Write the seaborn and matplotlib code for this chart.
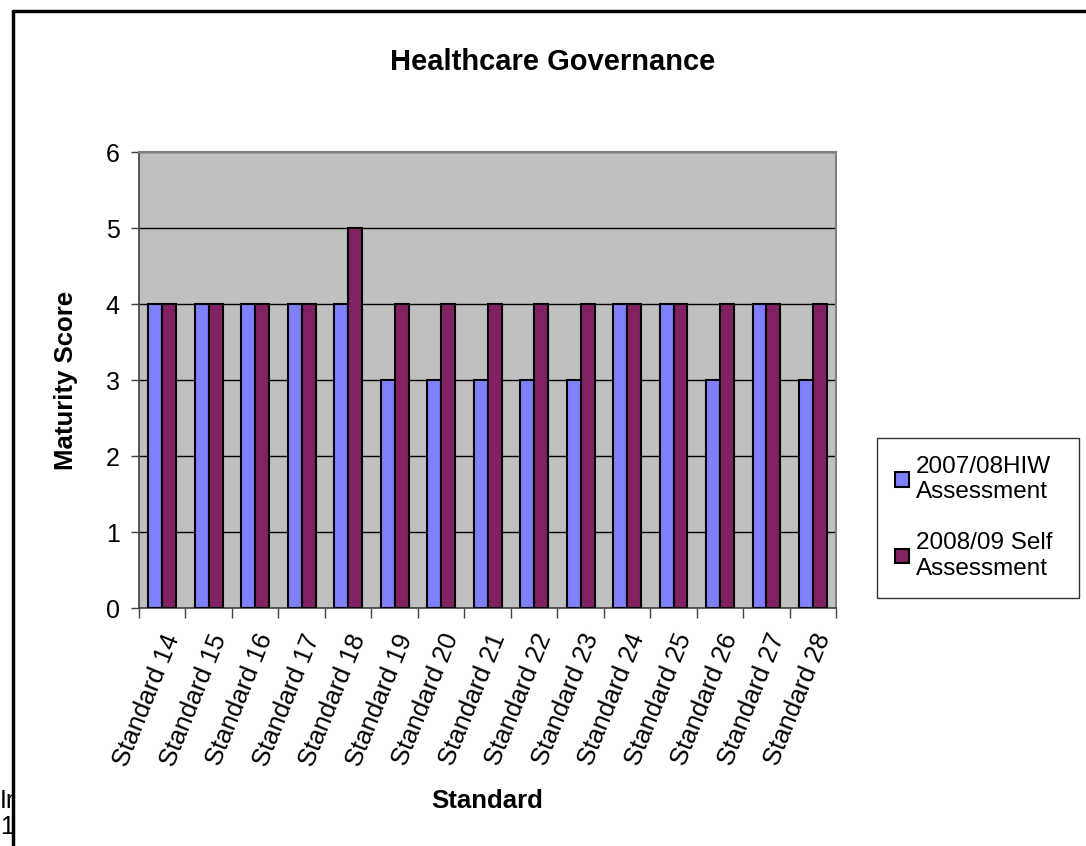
import numpy as np
import pandas as pd
import seaborn as sns
from matplotlib import pyplot as plt
from matplotlib.lines import Line2D
from matplotlib.patches import Rectangle, Patch

standards = ['Standard %d' % n for n in range(14, 29)]
hiw_0708 = [4, 4, 4, 4, 4, 3, 3, 3, 3, 3, 4, 4, 3, 4, 3]
self_0809 = [4, 4, 4, 4, 5, 4, 4, 4, 4, 4, 4, 4, 4, 4, 4]
series = ['2007/08HIW\nAssessment', '2008/09 Self\nAssessment']
colors = ['#8080FF', '#822262']

df = pd.DataFrame({'Standard': standards * 2,
                   'Score': hiw_0708 + self_0809,
                   'Series': [series[0]] * 15 + [series[1]] * 15})

sns.set_style('white')
plt.rcParams['font.family'] = ['Liberation Sans', 'DejaVu Sans']
plt.rcParams.update({'text.color': 'black', 'axes.labelcolor': 'black',
                     'xtick.color': 'black', 'ytick.color': 'black'})

fig = plt.figure(figsize=(10.86, 8.46), dpi=100)
ax = fig.add_axes([0.128, 0.2813, 0.642, 0.5390])
ax.set_facecolor('#C0C0C0')

sns.barplot(data=df, x='Standard', y='Score', hue='Series', order=standards,
            hue_order=series, palette=colors, width=0.6, edgecolor='black',
            linewidth=1.5, saturation=1, legend=False, ax=ax, zorder=3)

ax.set_ylim(0, 6)
ax.set_xlim(-0.5, 14.5)
ax.set_yticks(range(0, 7))
ax.yaxis.grid(True, color='black', linewidth=1, zorder=1)
ax.set_axisbelow(True)
ax.tick_params(axis='y', labelsize=18, length=6, direction='out', left=True,
               width=1, color='#404040', pad=8)
ax.set_xticks(np.arange(15))
ax.set_xticklabels(standards, rotation=68, ha='right', rotation_mode='anchor', fontsize=18.5)
ax.tick_params(axis='x', which='major', length=0, pad=16)
ax.set_xticks(np.arange(-0.5, 15, 1), minor=True)
ax.tick_params(axis='x', which='minor', length=7, direction='out', bottom=True,
               width=1, color='#404040')
for s in ['left', 'bottom']:
    ax.spines[s].set_color('#404040')
    ax.spines[s].set_linewidth(1.2)
for s in ['top', 'right']:
    ax.spines[s].set_color('#808080')
    ax.spines[s].set_linewidth(1.5)

ax.set_xlabel('Standard', fontsize=18.5, fontweight='bold', labelpad=14)
ax.set_ylabel('Maturity Score', fontsize=18.5, fontweight='bold', labelpad=20)
fig.text(0.509, 0.9267, 'Healthcare Governance', fontsize=21, fontweight='bold',
         ha='center', va='center')

handles = [Patch(facecolor=c, edgecolor='black', linewidth=1.5) for c in colors]
leg = fig.legend(handles, series, loc='lower left', bbox_to_anchor=(0.8076, 0.2931, 0.186, 0.1868),
                 mode='expand', borderaxespad=0, fontsize=17.5, frameon=True, fancybox=False,
                 handlelength=0.55, handleheight=0.55, handletextpad=0.3,
                 labelspacing=1.2, borderpad=0.75)
leg.get_frame().set_edgecolor('black')
leg.get_frame().set_linewidth(1)

# clipped fragments at bottom left and the outer border
clip = Rectangle((0, 0), 13, 846, transform=None)
for txt, y in [('In', 0.053), ('1', 0.022)]:
    t = fig.text(0.0, y, txt, fontsize=18, ha='left', va='center')
    t.set_clip_path(clip)
fig.add_artist(Line2D([0.012, 1.0], [0.987, 0.987], color='black', linewidth=2.5))
fig.add_artist(Line2D([0.012, 0.012], [0.0, 0.987], color='black', linewidth=2.5))

plt.savefig('out.png', dpi=100)
